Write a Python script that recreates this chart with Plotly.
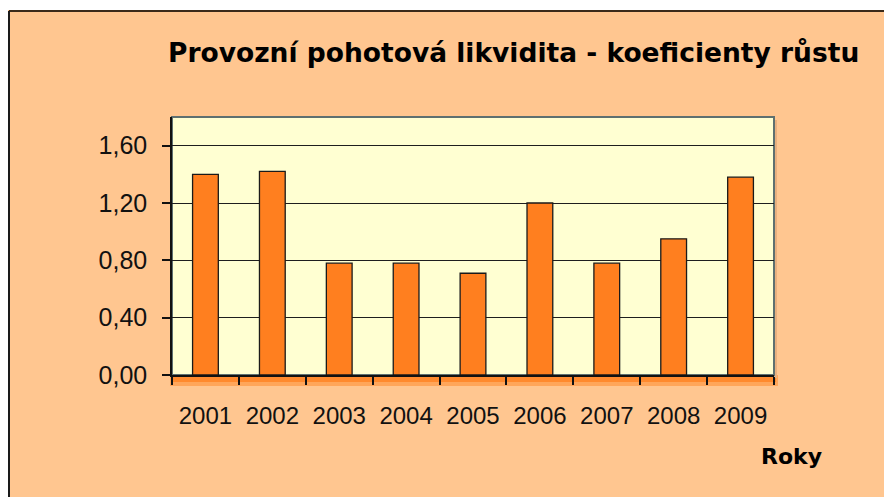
import plotly.graph_objects as go

years = ["2001", "2002", "2003", "2004", "2005", "2006", "2007", "2008", "2009"]
values = [1.40, 1.42, 0.78, 0.78, 0.71, 1.20, 0.78, 0.95, 1.38]
y_ticks = [0.0, 0.4, 0.8, 1.2, 1.6]

title_text = "Provozní pohotová likvidita - koeficienty růstu"
x_title = "Roky"

# page body has an 8px margin, so screen coords = figure coords + 8
OFF = 8
W, H = 892, 497
L, T = 172 - OFF, 117 - OFF
pw, ph = 602, 258
R = W - L - pw
B = H - T - ph

def px(x):  # screen x -> paper
    return (x - OFF - L) / pw

def py(y):  # screen y -> paper
    return (T + ph - (y - OFF)) / ph

PEACH = "#FFC690"
PLOTBG = "#FFFFD2"
BAR = "#FF7F1F"

fig = go.Figure()
fig.add_trace(go.Bar(
    x=years, y=values,
    marker=dict(color=BAR, line=dict(color="#1a1a1a", width=1.3)),
    width=0.385,
))

bottom = 375
right = 774
shapes = [
    # shadow under plot area
    dict(type="rect", xref="paper", yref="paper", x0=px(170), x1=px(right + 4), y0=py(bottom + 11), y1=0,
         fillcolor="#FFA65A", line=dict(width=0), layer="below"),
    dict(type="rect", xref="paper", yref="paper", x0=px(172), x1=px(right + 2), y0=py(bottom + 7), y1=0,
         fillcolor="#FF8A2E", line=dict(width=0), layer="below"),
    # right shadow
    dict(type="rect", xref="paper", yref="paper", x0=1, x1=px(right + 3), y0=py(bottom + 3), y1=py(120),
         fillcolor="#E8B080", line=dict(width=0), layer="below"),
    # plot border (gray)
    dict(type="rect", xref="paper", yref="paper", x0=0, x1=1, y0=0, y1=1,
         fillcolor="rgba(0,0,0,0)", line=dict(color="#5E7070", width=2), layer="below"),
    # white strip at top edge
    dict(type="rect", xref="paper", yref="paper", x0=px(-5), x1=px(W + 20), y0=py(10), y1=py(-5),
         fillcolor="white", line=dict(width=0), layer="above"),
    # outer border lines
    dict(type="line", xref="paper", yref="paper", x0=px(9), x1=px(W + 20), y0=py(11), y1=py(11),
         line=dict(color="#3a2a1a", width=2), layer="above"),
    dict(type="line", xref="paper", yref="paper", x0=px(9), x1=px(9), y0=py(11), y1=py(H + 20),
         line=dict(color="#1a1a1a", width=2), layer="above"),
]

fig.update_layout(
    width=W, height=H,
    margin=dict(l=L, r=R, t=T, b=B),
    paper_bgcolor=PEACH,
    plot_bgcolor=PLOTBG,
    separators=",.",
    showlegend=False,
    shapes=shapes,
    font=dict(family="Liberation Sans, Arial, sans-serif", color="#111111"),
    annotations=[
        dict(text=title_text, xref="paper", yref="paper", x=px(513), y=py(52),
             xanchor="center", yanchor="middle", showarrow=False,
             font=dict(family="DejaVu Sans", size=26.5, color="#000000", weight="bold")),
        dict(text=x_title, xref="paper", yref="paper", x=px(791), y=py(456),
             xanchor="center", yanchor="middle", showarrow=False,
             font=dict(family="DejaVu Sans", size=22, color="#000000", weight="bold")),
    ],
    bargap=0.615,
)

fig.update_xaxes(
    type="category",
    showline=True, linecolor="#111111", linewidth=1.5,
    ticks="outside", ticklen=8, tickcolor="#111111", tickwidth=1.5,
    tickson="boundaries",
    tickfont=dict(size=24, family="Liberation Sans"),
    ticklabelstandoff=18,
    showgrid=False,
)
fig.update_yaxes(
    range=[0, 1.8],
    tickvals=y_ticks,
    tickformat=".2f",
    showline=True, linecolor="#111111", linewidth=1.5,
    ticks="outside", ticklen=8, tickcolor="#111111", tickwidth=1.5,
    showgrid=True, gridcolor="#1e1e1e", gridwidth=1.4,
    zeroline=False,
    tickfont=dict(size=25, family="Liberation Sans"),
    ticklabelstandoff=10,
)

fig.write_html("out.html")
